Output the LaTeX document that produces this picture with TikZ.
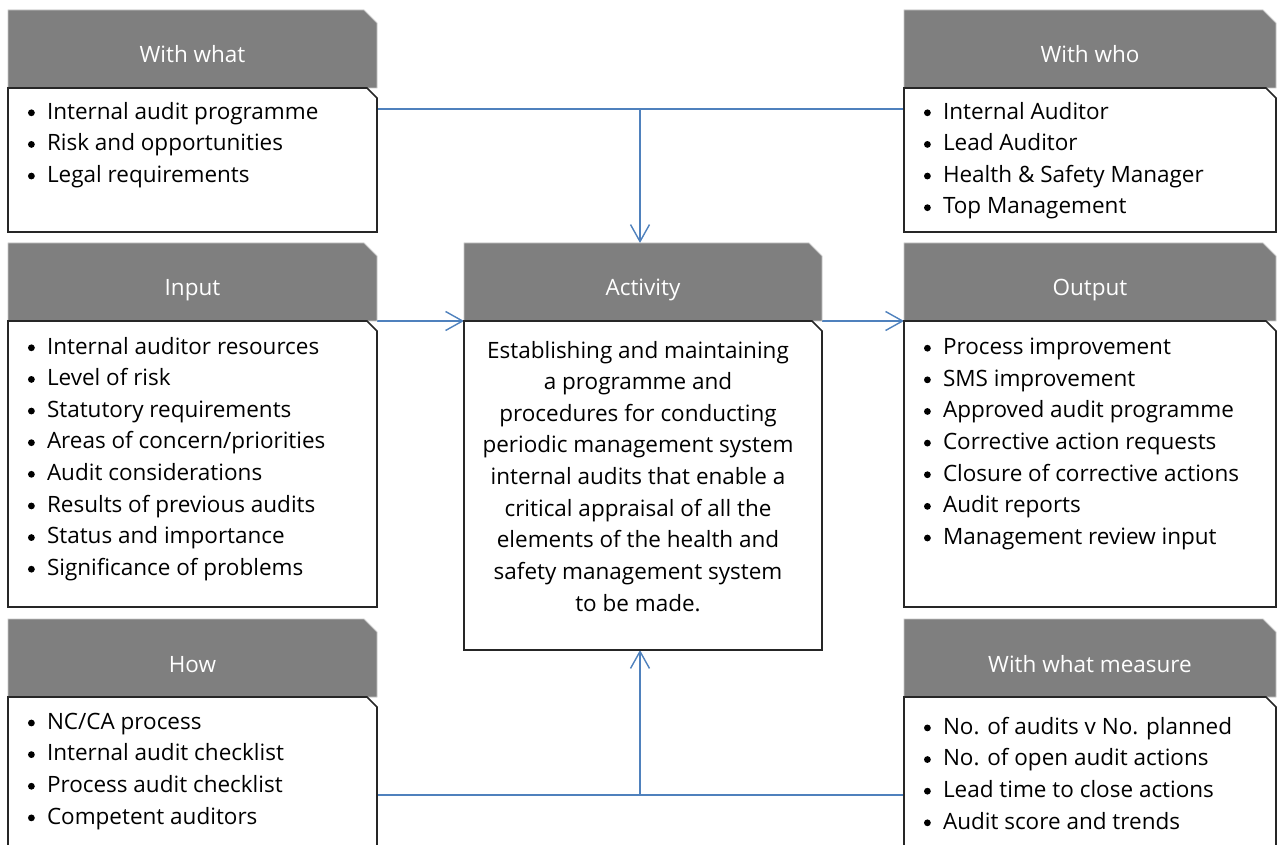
\documentclass[tikz,border=0pt]{standalone}
\usepackage{fontspec}
\setmainfont{Open Sans}
\usetikzlibrary{arrows.meta}
\pgfdeclarelayer{bg}
\pgfdeclarelayer{box}
\pgfsetlayers{bg,box,main}
\definecolor{headgray}{RGB}{127,127,127}
\definecolor{linkblue}{RGB}{79,129,189}
\newcommand{\itm}{\makebox[0.38cm][l]{\tikz[baseline=-0.28em]\fill (0,0) circle (0.068cm);}}
\newcommand{\headshape}[1]{\filldraw [headfill] (#1.south west) -- (#1.north west) -- ([xshift=-0.26cm]#1.north east) -- ([yshift=-0.26cm]#1.north east) -- (#1.south east) -- cycle;}
\newcommand{\bodyshape}[1]{\filldraw [bodyfill] (#1.south west) -- (#1.north west) -- ([xshift=-0.2cm]#1.north east) -- ([yshift=-0.2cm]#1.north east) -- (#1.south east) -- cycle;}
\tikzset{
    every node/.style={inner sep=0mm, outer sep=0mm, font=\fontsize{12.8pt}{18pt}\selectfont}
}
\tikzset{
    head/.style={rectangle, text=white, minimum height=1.56cm, text height=0.6cm, text depth=0.04cm},
    body/.style={rectangle},
    headfill/.style={fill=headgray, draw=black!22, line width=0.5pt},
    bodyfill/.style={fill=white, draw=black!85, line width=0.9pt},
    items/.style={anchor=north west, align=left},
    flow/.style={draw=linkblue, line width=0.8pt},
    arrow/.style={flow, -{Straight Barb[length=3.4mm, width=3.8mm]}}
}

\begin{document}
\begin{tikzpicture}
        \useasboundingbox (0cm, 0cm) rectangle (25.580000cm, -16.900000cm);
        \node (whatHead) [head, minimum width=7.38cm] at (3.850000cm, -0.980000cm) {With what};
        \node (whatBox) [body, minimum width=7.38cm, minimum height=2.88cm] at (3.850000cm, -3.200000cm) {};
        \node (whoHead) [head, minimum width=7.44cm] at (21.800000cm, -0.980000cm) {With who};
        \node (whoBox) [body, minimum width=7.44cm, minimum height=2.88cm] at (21.800000cm, -3.200000cm) {};
        \node (inHead) [head, minimum width=7.38cm] at (3.850000cm, -5.640000cm) {Input};
        \node (inBox) [body, minimum width=7.38cm, minimum height=5.72cm] at (3.850000cm, -9.280000cm) {};
        \node (actHead) [head, minimum width=7.16cm] at (12.860000cm, -5.640000cm) {Activity};
        \node (actBox) [body, minimum width=7.16cm, minimum height=6.58cm] at (12.860000cm, -9.710000cm) {};
        \node (outHead) [head, minimum width=7.44cm] at (21.800000cm, -5.640000cm) {Output};
        \node (outBox) [body, minimum width=7.44cm, minimum height=5.72cm] at (21.800000cm, -9.280000cm) {};
        \node (howHead) [head, minimum width=7.38cm] at (3.850000cm, -13.160000cm) {How};
        \node (howBox) [body, minimum width=7.38cm, minimum height=3.40cm] at (3.850000cm, -15.640000cm) {};
        \node (measHead) [head, minimum width=7.44cm] at (21.800000cm, -13.160000cm) {With what measure};
        \node (measBox) [body, minimum width=7.44cm, minimum height=3.40cm] at (21.800000cm, -15.640000cm) {};
        % lists
        \node (whatTxt) [items] at ([shift={(0.40cm,-0.28cm)}]whatBox.north west) {\itm Internal audit programme\\ \itm Risk and opportunities\\ \itm Legal requirements};
        \node (whoTxt) [items] at ([shift={(0.40cm,-0.28cm)}]whoBox.north west) {\itm Internal Auditor\\ \itm Lead Auditor\\ \itm Health \& Safety Manager\\ \itm Top Management};
        \node (inTxt) [items] at ([shift={(0.40cm,-0.32cm)}]inBox.north west) {\itm Internal auditor resources\\ \itm Level of risk\\ \itm Statutory requirements\\ \itm Areas of concern/priorities\\ \itm Audit considerations\\ \itm Results of previous audits\\ \itm Status and importance\\ \itm Significance of problems};
        \node (outTxt) [items] at ([shift={(0.40cm,-0.34cm)}]outBox.north west) {\itm Process improvement\\ \itm SMS improvement\\ \itm Approved audit programme\\ \itm Corrective action requests\\ \itm Closure of corrective actions\\ \itm Audit reports\\ \itm Management review input};
        \node (actTxt) [align=center, anchor=north] at ([shift={(-0.10cm,-0.40cm)}]actBox.north) {Establishing and maintaining\\ a programme and\\ procedures for conducting\\ periodic management system\\ internal audits that enable a\\ critical appraisal of all the\\ elements of the health and\\ safety management system\\ to be made.};
        \node (howTxt) [items] at ([shift={(0.40cm,-0.32cm)}]howBox.north west) {\itm NC/CA process\\ \itm Internal audit checklist\\ \itm Process audit checklist\\ \itm Competent auditors};
        \node (measTxt) [items] at ([shift={(0.40cm,-0.40cm)}]measBox.north west) {\itm No. of audits v No. planned\\ \itm No. of open audit actions\\ \itm Lead time to close actions\\ \itm Audit score and trends};
        \coordinate (topJoin) at (12.800000cm, -2.180000cm);
        \coordinate (botJoin) at (12.800000cm, -15.900000cm);
        \begin{pgfonlayer}{box}
                \headshape{whatHead} \bodyshape{whatBox}
                \headshape{whoHead} \bodyshape{whoBox}
                \headshape{inHead} \bodyshape{inBox}
                \headshape{actHead} \bodyshape{actBox}
                \headshape{outHead} \bodyshape{outBox}
                \headshape{howHead} \bodyshape{howBox}
                \headshape{measHead} \bodyshape{measBox}
        \end{pgfonlayer}
        \begin{pgfonlayer}{bg}
                \draw [flow] (whatBox.east |- topJoin) -- (whoBox.west |- topJoin);
                \draw [arrow] (topJoin) -- (topJoin |- actHead.north);
                \draw [arrow] (inHead.south east) -- (actHead.south west);
                \draw [arrow] (actHead.south east) -- (outHead.south west);
                \draw [flow] (howBox.east |- botJoin) -- (measBox.west |- botJoin);
                \draw [arrow] (botJoin) -- (botJoin |- actBox.south);
        \end{pgfonlayer}
\end{tikzpicture}
\end{document}
